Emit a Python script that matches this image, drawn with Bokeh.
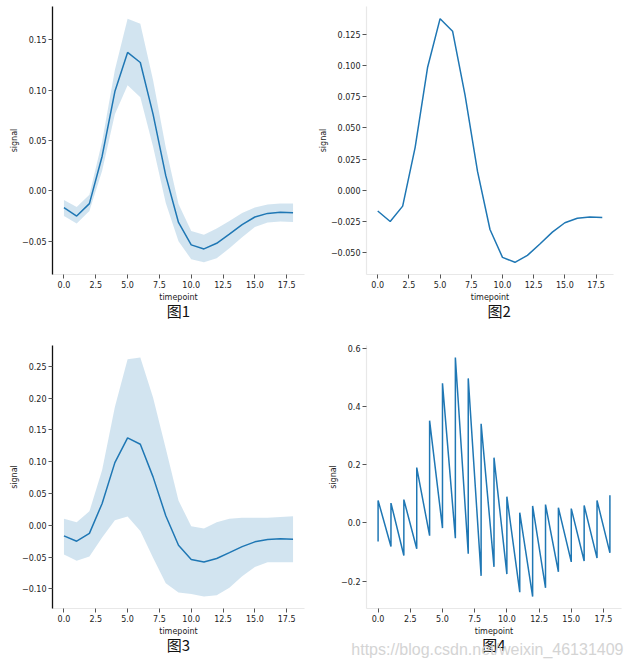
from bokeh.plotting import figure
from bokeh.models import Range1d, FixedTicker, Title
from bokeh.layouts import column, row
from bokeh.embed import file_html
from bokeh.resources import INLINE

# ---------------- data ----------------
timepoints = list(range(19))
mean_signal = [-0.0166, -0.0250, -0.0127, 0.0344, 0.0986, 0.1375, 0.1275, 0.0762, 0.0151,
               -0.0314, -0.0537, -0.0577, -0.0521, -0.0430, -0.0335, -0.0260, -0.0224,
               -0.0213, -0.0218]
ci_low = [-0.0250, -0.0325, -0.0200, 0.0200, 0.0760, 0.1050, 0.0930, 0.0440, -0.0120,
          -0.0500, -0.0680, -0.0710, -0.0670, -0.0570, -0.0460, -0.0360, -0.0315,
          -0.0305, -0.0310]
ci_high = [-0.0092, -0.0160, -0.0040, 0.0490, 0.1200, 0.1710, 0.1660, 0.1100, 0.0430,
           -0.0130, -0.0400, -0.0435, -0.0375, -0.0300, -0.0220, -0.0165, -0.0135,
           -0.0125, -0.0125]
sd_low = [-0.046, -0.0557, -0.049, -0.019, 0.008, 0.014, -0.009, -0.051, -0.091,
          -0.1057, -0.108, -0.112, -0.110, -0.098, -0.080, -0.0655, -0.058, -0.058, -0.058]
sd_high = [0.0103, 0.005, 0.022, 0.087, 0.186, 0.261, 0.264, 0.201, 0.121,
           0.039, -0.0015, -0.005, 0.005, 0.0103, 0.012, 0.012, 0.012, 0.013, 0.0144]
raw_low = [-0.064, -0.081, -0.112, -0.089, -0.044, -0.018, -0.053, -0.106, -0.182,
           -0.151, -0.176, -0.238, -0.253, -0.223, -0.168, -0.134, -0.131, -0.121, -0.103]
raw_high = [0.077, 0.068, 0.080, 0.190, 0.351, 0.479, 0.568, 0.496, 0.340,
            0.224, 0.090, 0.035, 0.058, 0.063, 0.052, 0.049, 0.060, 0.077, 0.095]

x_ticks = [0, 2.5, 5, 7.5, 10, 12.5, 15, 17.5]
x_tick_labels = ["0.0", "2.5", "5.0", "7.5", "10.0", "12.5", "15.0", "17.5"]
y1_ticks = [-0.05, 0.0, 0.05, 0.10, 0.15]
y1_labels = ["\u22120.05", "0.00", "0.05", "0.10", "0.15"]
y2_ticks = [-0.05, -0.025, 0.0, 0.025, 0.05, 0.075, 0.1, 0.125]
y2_labels = ["\u22120.050", "\u22120.025", "0.000", "0.025", "0.050", "0.075", "0.100", "0.125"]
y3_ticks = [-0.10, -0.05, 0.0, 0.05, 0.10, 0.15, 0.20, 0.25]
y3_labels = ["\u22120.10", "\u22120.05", "0.00", "0.05", "0.10", "0.15", "0.20", "0.25"]
y4_ticks = [-0.2, 0.0, 0.2, 0.4, 0.6]
y4_labels = ["\u22120.2", "0.0", "0.2", "0.4", "0.6"]

captions = ["图1", "图2", "图3", "图4"]
watermark = "https://blog.csdn.net/weixin_46131409"

BLUE = "#1f77b4"
LIGHT = "#e8e8e8"


def pad(lo, hi, frac=0.05):
    span = hi - lo
    return lo - frac * span, hi + frac * span


XR = pad(min(timepoints), max(timepoints))


def make_fig(width, height, left, right, top, bottom, yr, yticks, ylabels,
             dark_left, caption, cap_align="center", cap_offset=0):
    p = figure(width=width, height=height, x_range=Range1d(*XR),
               y_range=Range1d(*yr), output_backend="svg", toolbar_location=None,
               min_border_left=left, min_border_right=right,
               min_border_top=top, min_border_bottom=bottom)
    p.outline_line_color = None
    p.xgrid.visible = False
    p.ygrid.visible = False
    for ax in (p.xaxis[0], p.yaxis[0]):
        ax.major_tick_line_color = "#555555"
        ax.major_tick_out = 4
        ax.major_tick_in = 0
        ax.minor_tick_line_color = None
        ax.major_label_text_font = "DejaVu Sans"
        ax.major_label_text_font_size = "8px"
        ax.major_label_text_color = "#222222"
        ax.major_label_standoff = 2
        ax.axis_label_text_font = "DejaVu Sans"
        ax.axis_label_text_font_size = "8px"
        ax.axis_label_text_font_style = "normal"
        ax.axis_label_text_color = "#222222"
    p.xaxis.axis_label_standoff = 2
    p.yaxis.axis_label_standoff = 0
    p.xaxis.ticker = FixedTicker(ticks=x_ticks)
    p.xaxis.major_label_overrides = dict(zip(x_ticks, x_tick_labels))
    p.yaxis.ticker = FixedTicker(ticks=yticks)
    p.yaxis.major_label_overrides = dict(zip(yticks, ylabels))
    p.xaxis.axis_label = "timepoint"
    p.yaxis.axis_label = "signal"
    p.xaxis.axis_line_color = LIGHT
    p.xaxis.axis_line_width = 1.2
    if dark_left:
        p.yaxis.axis_line_color = "#111111"
        p.yaxis.axis_line_width = 1.3
    else:
        p.yaxis.axis_line_color = LIGHT
        p.yaxis.axis_line_width = 1.2
    p.add_layout(Title(text=caption, align=cap_align, text_font="Noto Sans CJK SC",
                       text_font_size="15px", text_font_style="normal",
                       text_color="#111111", standoff=-10, offset=cap_offset,
                       vertical_align="top"), "below")
    return p


# Figure 1: mean with confidence band
p1 = make_fig(310, 328, 52, 6, 6, 54, pad(min(ci_low), max(ci_high)),
              y1_ticks, y1_labels, True, captions[0])
p1.varea(x=timepoints, y1=ci_low, y2=ci_high, fill_color=BLUE, fill_alpha=0.2)
p1.line(timepoints, mean_signal, line_color=BLUE, line_width=1.5)

# Figure 2: mean only
p2 = make_fig(320, 328, 56, 17, 6, 54, pad(min(mean_signal), max(mean_signal)),
              y2_ticks, y2_labels, False, captions[1], cap_align="left", cap_offset=121)
p2.line(timepoints, mean_signal, line_color=BLUE, line_width=1.5)

# Figure 3: mean with sd band
p3 = make_fig(310, 336, 52, 6, 15, 56, pad(min(sd_low), max(sd_high)),
              y3_ticks, y3_labels, True, captions[2])
p3.varea(x=timepoints, y1=sd_low, y2=sd_high, fill_color=BLUE, fill_alpha=0.2)
p3.line(timepoints, mean_signal, line_color=BLUE, line_width=1.5)

# Figure 4: raw observations (no estimator)
p4 = make_fig(320, 336, 56, 9, 17, 56, pad(min(raw_low), max(raw_high)),
              y4_ticks, y4_labels, False, captions[3])
raw_x, raw_y = [], []
for t, lo, hi in zip(timepoints, raw_low, raw_high):
    raw_x += [t, t]
    raw_y += [lo, hi]
p4.line(raw_x, raw_y, line_color=BLUE, line_width=1.5)

# watermark overlapping the caption of figure 4
p4.add_layout(Title(text=watermark, align="right", text_font="Liberation Sans",
                    text_font_size="16px", text_font_style="normal",
                    text_color="#d4d4d4", standoff=-21, offset=-2,
                    vertical_align="top"), "below")

layout = column(row(p1, p2), row(p3, p4))
open("out.html", "w").write(file_html(layout, INLINE))
